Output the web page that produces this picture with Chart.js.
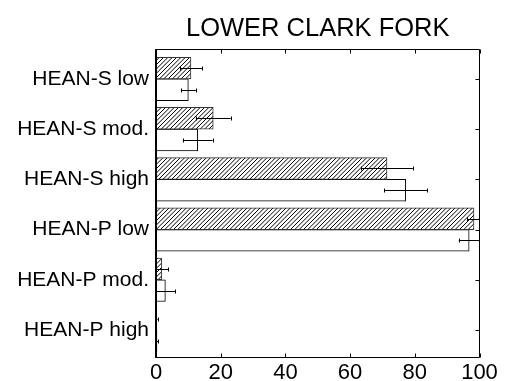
<!DOCTYPE html>
<html>
<head>
<meta charset="utf-8">
<script src="https://cdn.jsdelivr.net/npm/chart.js@4/dist/chart.umd.min.js"></script>
<style>
    html, body { margin: 0; padding: 0; background: #fff; }
    #wrap { width: 508px; height: 381px; }
</style>
</head>
<body>
<div id="wrap"><canvas id="canvas-chart" width="508" height="381"></canvas></div>
<script>
const TITLE = "LOWER CLARK FORK";
const CATEGORIES = ["HEAN-S low", "HEAN-S mod.", "HEAN-S high", "HEAN-P low", "HEAN-P mod.", "HEAN-P high"];
// hatched bars (upper bar of each pair) and their error
const HATCHED = [10.8, 17.7, 71.4, 98.3, 1.8, 0.2];
const HATCHED_ERR = [3.4, 5.4, 8.0, 2.1, 2.0, 0.3];
// open bars (lower bar of each pair) and their error
const OPEN = [10.0, 12.9, 77.2, 96.8, 2.9, 0.3];
const OPEN_ERR = [2.3, 4.6, 6.7, 3.2, 3.0, 0.3];
const X_TICKS = [0, 20, 40, 60, 80, 100];

const FONT = "'Liberation Sans', Arial, Helvetica, sans-serif";

function hatchPattern() {
    let size = 13;
    let c = document.createElement("canvas");
    c.width = size;
    c.height = size;
    let g = c.getContext("2d");
    g.fillStyle = "#fff";
    g.fillRect(0, 0, size, size);
    g.strokeStyle = "#000";
    g.lineWidth = 1;
    let step = size / 3;
    for (let k = -1; k <= 7; k++) {
        let d = k * step;
        g.beginPath();
        g.moveTo(d + 3, -3);
        g.lineTo(-3, d + 3);
        g.stroke();
    }
    return g.createPattern(c, "repeat");
}

function toPoints(values) {
    return values.map((v, i) => ({ x: v, y: i }));
}

// error bars + box frame with inward ticks
const frame = {
    id: "frame",
    afterDatasetsDraw(chart) {
        let ctx = chart.ctx;
        let a = chart.chartArea;
        let xs = chart.scales.x;
        let ys = chart.scales.y;

        ctx.save();
        ctx.beginPath();
        ctx.rect(a.left, a.top, a.right - a.left, a.bottom - a.top);
        ctx.clip();
        ctx.strokeStyle = "#000";
        ctx.lineWidth = 1;
        chart.data.datasets.forEach((ds, di) => {
            chart.getDatasetMeta(di).data.forEach((bar, i) => {
                let v = ds.data[i].x;
                let e = ds.errors[i];
                let x1 = xs.getPixelForValue(v - e);
                let x2 = xs.getPixelForValue(v + e);
                let y = Math.round(bar.y) + 0.5;
                ctx.beginPath();
                ctx.moveTo(x1, y);
                ctx.lineTo(x2, y);
                ctx.moveTo(Math.round(x1) + 0.5, y - 2);
                ctx.lineTo(Math.round(x1) + 0.5, y + 2);
                ctx.moveTo(Math.round(x2) + 0.5, y - 2);
                ctx.lineTo(Math.round(x2) + 0.5, y + 2);
                ctx.stroke();
            });
        });
        ctx.restore();

        ctx.save();
        ctx.strokeStyle = "#000";
        ctx.lineWidth = 1;
        ctx.beginPath();
        ctx.moveTo(a.left, a.top);
        ctx.lineTo(a.right, a.top);
        ctx.lineTo(a.right, a.bottom);
        ctx.lineTo(a.left, a.bottom);
        X_TICKS.forEach((t) => {
            let x = Math.round(xs.getPixelForValue(t)) + 0.5;
            ctx.moveTo(x, a.bottom);
            ctx.lineTo(x, a.bottom - 4);
            ctx.moveTo(x, a.top);
            ctx.lineTo(x, a.top + 4);
        });
        CATEGORIES.forEach((c, i) => {
            let y = Math.round(ys.getPixelForValue(i)) + 0.5;
            ctx.moveTo(a.right, y);
            ctx.lineTo(a.right - 4, y);
        });
        ctx.stroke();
        ctx.lineWidth = 2;
        ctx.beginPath();
        ctx.moveTo(a.left, a.top - 0.5);
        ctx.lineTo(a.left, a.bottom + 0.5);
        ctx.stroke();
        ctx.restore();
    }
};

Chart.defaults.font.family = FONT;
Chart.defaults.color = "#000";

let ctx = document.getElementById("canvas-chart");
new Chart(ctx, {
    type: "bar",
    data: {
        datasets: [
            {
                data: toPoints(HATCHED),
                errors: HATCHED_ERR,
                backgroundColor: hatchPattern(),
                borderColor: "#333",
                borderWidth: 1,
                barThickness: 21.7,
            },
            {
                data: toPoints(OPEN),
                errors: OPEN_ERR,
                backgroundColor: "#fff",
                borderColor: "#000",
                borderWidth: 1,
                barThickness: 21.7,
            },
        ]
    },
    options: {
        indexAxis: "y",
        responsive: false,
        animation: false,
        layout: { padding: { left: 0, right: 28.5, top: 0, bottom: 0 } },
        plugins: {
            legend: { display: false },
            tooltip: { enabled: false },
            title: {
                display: true,
                text: TITLE,
                fullSize: false,
                color: "#000",
                font: { size: 25.5, weight: "normal", lineHeight: 1.2 },
                padding: { top: 13.7, bottom: 5.2 },
            },
        },
        scales: {
            x: {
                type: "linear",
                position: "bottom",
                min: 0,
                max: 100,
                offset: false,
                afterBuildTicks: (s) => { s.ticks = X_TICKS.map((v) => ({ value: v })); },
                afterFit: (s) => { s.height = 23.5; },
                grid: { display: false, drawTicks: false },
                border: { display: false },
                ticks: { font: { size: 22 }, padding: 2, maxRotation: 0, color: "#000" },
            },
            y: {
                type: "linear",
                position: "left",
                reverse: true,
                offset: false,
                min: -0.586,
                max: 5.548,
                afterBuildTicks: (s) => { s.ticks = CATEGORIES.map((c, i) => ({ value: i })); },
                afterFit: (s) => { s.width = 156; },
                grid: { display: false, drawTicks: false, offset: false },
                border: { display: false },
                ticks: {
                    font: { size: 21 },
                    padding: 7,
                    color: "#000",
                    callback: (v) => CATEGORIES[v],
                },
            },
        },
    },
    plugins: [frame],
});
</script>
</body>
</html>
